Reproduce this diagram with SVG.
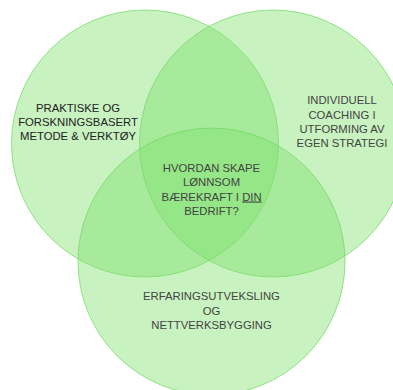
<svg xmlns="http://www.w3.org/2000/svg" width="393" height="390" viewBox="0 0 393 390">
<style>
.c{fill:rgb(124,224,105);fill-opacity:0.42;stroke:rgb(110,215,95);stroke-opacity:0.7;stroke-width:1}
text{font-family:"Liberation Sans",Arial,sans-serif;font-size:11.3px;text-anchor:middle;fill:#444}
.dk{fill:#222}
</style>
<rect width="393" height="390" fill="#fff"/>
<g id="left"><circle class="c" cx="145" cy="143.5" r="133.5"/>
<text class="dk"><tspan x="78" y="111.5">PRAKTISKE OG</tspan><tspan x="78" y="125.5">FORSKNINGSBASERT</tspan><tspan x="78" y="139.5">METODE &amp; VERKTØY</tspan></text></g>
<g id="right"><circle class="c" cx="273" cy="143.5" r="133.5"/>
<text><tspan x="342" y="104">INDIVIDUELL</tspan><tspan x="342" y="118.5">COACHING I</tspan><tspan x="342" y="132.5">UTFORMING AV</tspan><tspan x="342" y="146.5">EGEN STRATEGI</tspan></text></g>
<g id="bottom"><circle class="c" cx="211.5" cy="261.5" r="133.5"/>
<text><tspan x="211.5" y="300">ERFARINGSUTVEKSLING</tspan><tspan x="211.5" y="314.5">OG</tspan><tspan x="211.5" y="328.5">NETTVERKSBYGGING</tspan></text></g>
<g id="center">
<text><tspan x="211.5" y="171.5">HVORDAN SKAPE</tspan><tspan x="211.5" y="186">LØNNSOM</tspan><tspan x="211.5" y="200.5">BÆREKRAFT I <tspan text-decoration="underline">DIN</tspan></tspan><tspan x="211.5" y="214.5">BEDRIFT?</tspan></text></g>
<g id="connectors"/>
</svg>
